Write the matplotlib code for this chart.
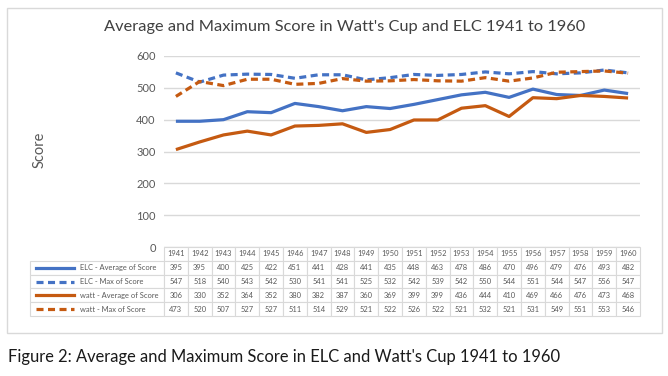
import matplotlib.pyplot as plt
from matplotlib.lines import Line2D
from matplotlib.patches import Rectangle

plt.rcParams['font.family'] = ['Lato', 'DejaVu Sans']

years = list(range(1941, 1961))
elc_avg = [395, 395, 400, 425, 422, 451, 441, 428, 441, 435, 448, 463, 478, 486, 470, 496, 479, 476, 493, 482]
elc_max = [547, 518, 540, 543, 542, 530, 541, 541, 525, 532, 542, 539, 542, 550, 544, 551, 544, 547, 556, 547]
watt_avg = [306, 330, 352, 364, 352, 380, 382, 387, 360, 369, 399, 399, 436, 444, 410, 469, 466, 476, 473, 468]
watt_max = [473, 520, 507, 527, 527, 511, 514, 529, 521, 522, 526, 522, 521, 532, 521, 531, 549, 551, 553, 546]

names = ['ELC - Average of Score', 'ELC - Max of Score',
         'watt - Average of Score', 'watt - Max of Score']
series = [elc_avg, elc_max, watt_avg, watt_max]
blue = '#4472C4'
orange = '#C55A11'
colors = [blue, blue, orange, orange]
styles = ['-', (0, (2.2, 1.4)), '-', (0, (2.2, 1.4))]

W, H = 668, 376
fig = plt.figure(figsize=(W / 100, H / 100), dpi=100)

# outer chart frame
fig.patches.append(Rectangle((7 / W, 1 - 333 / H), 655 / W, 325 / H,
                             transform=fig.transFigure, fill=False,
                             edgecolor='#d9d9d9', linewidth=1))

L, R, T, B = 164, 640, 56, 247
ax = fig.add_axes([L / W, 1 - B / H, (R - L) / W, (B - T) / H])

x = range(len(years))
for s, c, ls in zip(series, colors, styles):
    ax.plot(x, s, color=c, linestyle=ls, linewidth=2.3, solid_capstyle='butt')

ax.set_xlim(-0.5, len(years) - 0.5)
ax.set_ylim(0, 600)
ax.set_yticks(range(0, 601, 100))
ax.grid(axis='y', color='#d9d9d9', linewidth=1)
ax.set_axisbelow(True)
for sp in ax.spines.values():
    sp.set_visible(False)
ax.set_xticks([])
ax.tick_params(axis='y', length=0, labelsize=8, labelcolor='#595959', pad=6)

fig.text(40 / W, 1 - 150 / H, 'Score', rotation=90, fontsize=10.5,
         color='#595959', ha='center', va='center')
fig.text(345 / W, 1 - 27 / H, "Average and Maximum Score in Watt's Cup and ELC 1941 to 1960",
         fontsize=11.8, color='#404040', ha='center', va='center')

# data table under the plot
tl, tb = 30, 316
lab_w = L - tl
col_w = (R - L) / len(years)
cell_text = [[n] + [str(v) for v in s] for n, s in zip(names, series)]
col_labels = [''] + [str(y) for y in years]
tot_w = lab_w + col_w * len(years)
col_widths = [lab_w / tot_w] + [col_w / tot_w] * len(years)
tab = ax.table(cellText=cell_text, colLabels=col_labels, colWidths=col_widths,
               cellLoc='center',
               bbox=[(tl - L) / (R - L), -(tb - B) / (B - T), tot_w / (R - L), (tb - B) / (B - T)])
tab.auto_set_font_size(False)
for (r, c), cell in tab.get_celld().items():
    cell.set_edgecolor('#d9d9d9')
    cell.set_linewidth(0.8)
    cell.get_text().set_fontsize(5.4)
    cell.get_text().set_color('#595959')
    if r == 0 and c == 0:
        cell.set_edgecolor('none')
    if c == 0 and r > 0:
        cell.get_text().set_ha('left')
        cell._loc = 'left'
        cell.PAD = 0.37

# legend keys in row label cells
row_h = (tb - B) / 5
for i, (c, ls) in enumerate(zip(colors, styles)):
    yc = 1 - (B + row_h * (i + 1.5)) / H
    fig.add_artist(Line2D([36 / W, 74 / W], [yc, yc], color=c, linestyle=ls,
                          linewidth=2.3, transform=fig.transFigure))

fig.text(8 / W, 1 - 357 / H, "Figure 2: Average and Maximum Score in ELC and Watt's Cup 1941 to 1960",
         fontsize=11.9, color='#1a1a1a', ha='left', va='center')

fig.savefig('out.png', dpi=100)
